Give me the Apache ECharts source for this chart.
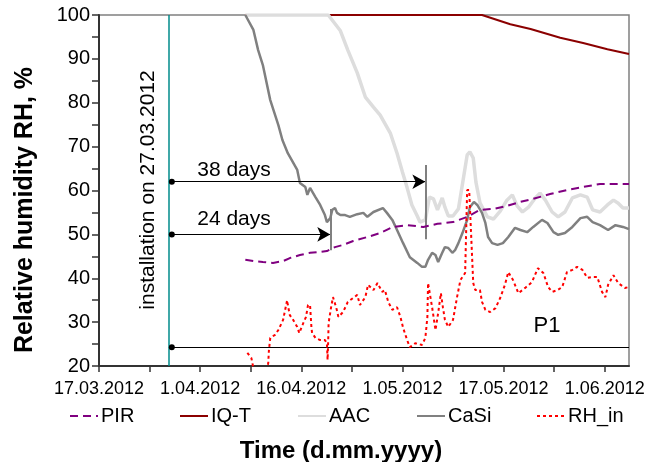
<!DOCTYPE html>
<html><head><meta charset="utf-8">
<script src="https://cdn.jsdelivr.net/npm/echarts@6/dist/echarts.min.js"></script>
<style>html,body{margin:0;padding:0;background:#fff}#c{width:660px;height:462px}</style>
</head><body><div id="c"></div>
<script>
// x values are days after 17.03.2012
const xTickLabels = ['17.03.2012','1.04.2012','16.04.2012','1.05.2012','17.05.2012','1.06.2012'];
const xMax = 78.6;

const pirDays = [21.7,22.9,24.3,25.8,27.3,28.3,29.8,31.3,32.8,33.8,35.0,36.2,37.7,39.8,41.7,43.6,45.7,48.1,50.2,52.5,54.6,56.5,58.5,60.5,62.5,64.4,66.9,69.4,71.8,74.3,76.3,78.6];
const pirRH   = [44.2,43.9,43.7,43.5,43.9,44.6,45.3,45.8,46.0,46.2,47.1,47.6,48.5,49.4,50.3,51.7,52.1,51.7,52.4,52.8,54.0,55.6,55.8,56.5,57.4,58.1,59.2,60.1,60.8,61.5,61.5,61.5];

const iqtDays = [21.7,56.8,61.0,64.0,68.4,71.8,75.4,78.6];
const iqtRH   = [100,100,97.9,96.8,94.8,93.6,92.2,91.1];

const aacDays = [21.7,34.0,35.8,36.9,38.3,39.5,40.7,41.7,43.2,44.2,45.0,45.7,46.4,47.2,47.6,48.4,49.0,49.6,50.2,50.9,51.3,51.8,52.5,53.3,54.0,54.6,55.0,55.5,55.9,56.5,57.6,58.5,59.5,60.5,61.3,62.0,62.8,63.7,64.7,65.4,66.2,67.2,68.1,69.1,70.2,71.4,72.4,73.2,74.3,75.4,76.3,77.0,77.7,78.6];
const aacRH   = [100,100,96.4,92.0,86.8,81.3,79.0,77.2,73.1,68.5,64.2,60.6,56.7,54.2,52.8,53.3,58.5,58.1,55.6,58.3,56.2,54.2,54.2,55.8,62.4,68.1,68.8,67.4,61.9,57.2,54.0,53.5,55.3,57.8,59.0,56.5,55.1,56.2,58.3,59.4,57.8,55.1,54.0,55.1,58.3,59.0,58.5,55.6,55.1,56.7,57.8,57.1,56.0,56.0];

const casiDays = [21.7,22.9,23.6,24.3,25.4,26.6,27.2,28.0,29.4,29.8,30.6,30.9,31.3,32.1,32.8,33.5,33.8,34.3,34.6,35.0,35.3,35.8,36.5,37.2,38.3,39.2,39.8,40.7,42.1,42.7,43.5,44.2,45.1,46.1,47.2,47.9,48.4,48.8,49.4,49.9,50.3,50.9,51.3,51.8,52.4,52.8,53.3,53.9,54.6,55.0,55.6,56.1,56.8,57.3,57.7,58.3,59.1,59.9,60.7,61.7,62.5,63.5,64.4,65.7,66.5,67.4,68.1,69.1,70.2,71.4,72.4,73.2,74.3,75.5,76.6,77.7,78.6];
const casiRH   = [100,96.6,92.0,88.6,80.6,74.9,71.5,68.5,64.7,61.7,60.8,59.0,60.6,58.5,56.7,54.4,52.8,53.7,55.6,56.0,54.9,54.4,54.4,54.0,54.6,54.9,54.0,55.1,56.0,54.9,53.3,51.0,48.0,44.8,43.5,42.6,42.6,44.2,45.8,45.3,43.7,45.8,47.1,46.9,45.8,46.4,48.0,50.3,53.3,56.2,57.4,56.7,54.9,52.6,49.4,48.0,47.6,48.0,49.4,51.5,51.0,50.5,51.7,53.3,52.6,50.5,49.9,50.3,51.7,53.7,54.0,52.8,52.1,51.0,52.1,51.7,51.2];

const rhinDays = [22.0,22.6,22.9,23.9,24.9,25.1,25.2,25.4,26.1,26.6,27.3,27.9,28.0,28.3,28.8,29.4,29.7,30.3,30.7,31.0,31.3,31.5,31.6,32.1,32.8,33.5,33.8,33.9,34.0,34.05,34.4,34.7,35.2,35.5,36.2,36.9,38.3,38.7,39.5,39.9,40.7,41.3,42.0,42.4,42.9,43.5,44.2,44.7,45.1,45.7,46.1,46.9,47.9,48.4,48.7,48.8,49.4,49.9,50.3,50.7,51.0,51.3,51.8,52.5,53.1,53.6,54.3,54.6,54.9,55.5,55.8,56.5,56.8,57.3,58.0,58.8,59.5,60.2,60.7,61.4,62.2,63.2,64.2,65.1,65.9,66.6,67.2,68.0,68.7,69.4,70.2,70.9,71.7,72.4,73.2,73.9,74.6,75.1,75.5,76.3,77.0,78.0,78.6];
const rhinRH   = [23.0,21.8,19.5,16.8,19.1,20.7,23.6,26.4,27.1,28.2,30.5,35.0,33.9,31.6,30.5,28.9,27.5,29.8,31.2,33.9,33.9,28.9,27.5,26.4,25.9,25.9,25.2,21.4,26.4,29.8,33.2,35.7,33.2,31.2,32.3,34.6,36.2,33.9,35.7,38.5,37.3,38.9,36.9,37.3,34.6,32.8,33.4,31.2,28.7,25.9,24.3,25.2,24.8,26.4,31.2,38.9,33.4,28.2,32.1,36.6,33.4,30.5,28.9,30.5,35.7,39.6,41.2,60.1,60.1,38.9,37.3,37.3,34.6,32.8,32.3,33.2,35.5,38.5,41.4,39.6,36.6,37.8,39.1,42.3,41.2,38.0,36.9,37.3,38.0,41.4,41.9,42.6,41.9,40.1,40.3,40.3,36.9,35.7,38.5,40.7,38.9,37.8,38.0];

// annotations (data units)
const installDay = 10.3;
const startDay = 10.8;
const arrow38 = {end: 48.4, level: 62, barLow: 48.9, barHigh: 65.8};
const arrow24 = {end: 34.3, level: 50, barLow: 46.4, barHigh: 55.8};
const p1Level = 24.3;

const zip = (a, b) => a.map((v, i) => [v, b[i]]);
const FONT = '"Liberation Sans", Arial, sans-serif';

const chart = echarts.init(document.getElementById('c'), null, {renderer: 'canvas'});

const blackLine = {color: '#000', width: 1.2, type: 'solid'};
const grayBar = {color: '#808080', width: 2, type: 'solid'};

chart.setOption({
  animation: false,
  backgroundColor: '#fff',
  grid: {left: 99, right: 31, top: 15, bottom: 96, show: true, borderColor: '#808080', borderWidth: 1.5, backgroundColor: 'transparent'},
  xAxis: {
    type: 'value', min: 0, max: xMax, interval: 7.5,
    axisLine: {show: true, lineStyle: {color: '#333', width: 2}},
    axisTick: {show: true, length: 6, lineStyle: {color: '#333', width: 1.5}},
    splitLine: {show: false},
    axisLabel: {
      margin: 14, color: '#000', fontFamily: FONT, fontSize: 18,
      showMaxLabel: false,
      formatter: v => {
        const k = Math.round(v / 15);
        return (Math.abs(v - k * 15) < 1e-6 && k < xTickLabels.length) ? xTickLabels[k] : '';
      }
    }
  },
  yAxis: {
    type: 'value', min: 20, max: 100, interval: 5,
    axisLine: {show: true, lineStyle: {color: '#333', width: 2}},
    axisTick: {show: true, length: 7, lineStyle: {color: '#333', width: 1.5}},
    splitLine: {show: false},
    axisLabel: {margin: 9, color: '#000', fontFamily: FONT, fontSize: 20,
      formatter: v => (v % 10 === 0 ? String(v) : '')}
  },
  legend: [
    {data: ['PIR'], left: 69},
    {data: ['IQ-T'], left: 179},
    {data: ['AAC'], left: 297},
    {data: ['CaSi'], left: 416},
    {data: ['RH_in'], left: 536}
  ].map(l => Object.assign({
    top: 406, itemWidth: 28, itemHeight: 14, padding: 0, selectedMode: false,
    itemStyle: {opacity: 0},
    textStyle: {fontFamily: FONT, fontSize: 20, color: '#000', padding: [0, 0, 0, -2]}
  }, l)),
  title: [
    {text: 'Time (d.mm.yyyy)', left: 336, top: 434, textAlign: 'center',
      textStyle: {fontFamily: FONT, fontSize: 24, fontWeight: 'bold', color: '#000'}}
  ],
  graphic: [
    {type: 'text', x: 25, y: 210, rotation: Math.PI / 2,
      style: {text: 'Relative humidity RH, %', font: 'bold 25px ' + FONT, fill: '#000', align: 'center', verticalAlign: 'middle'}},
    {type: 'text', x: 148, y: 190, rotation: Math.PI / 2,
      style: {text: 'installation on 27.03.2012', font: '21px ' + FONT, fill: '#000', align: 'center', verticalAlign: 'middle'}},
    {type: 'text', x: 234, y: 170,
      style: {text: '38 days', font: '21px ' + FONT, fill: '#000', align: 'center', verticalAlign: 'middle'}},
    {type: 'text', x: 234, y: 219,
      style: {text: '24 days', font: '21px ' + FONT, fill: '#000', align: 'center', verticalAlign: 'middle'}},
    {type: 'text', x: 547, y: 326,
      style: {text: 'P1', font: '22px ' + FONT, fill: '#000', align: 'center', verticalAlign: 'middle'}}
  ],
  series: [
    {name: 'PIR', type: 'line', symbol: 'none', data: zip(pirDays, pirRH), z: 6,
      lineStyle: {color: '#800080', width: 2, type: [8, 5]}, itemStyle: {color: '#800080'}},
    {name: 'IQ-T', type: 'line', symbol: 'none', data: zip(iqtDays, iqtRH), z: 2,
      lineStyle: {color: '#8B0000', width: 2}, itemStyle: {color: '#8B0000'}},
    {name: 'AAC', type: 'line', symbol: 'none', data: zip(aacDays, aacRH), z: 3,
      lineStyle: {color: '#DDDDDD', width: 3.5}, itemStyle: {color: '#DDDDDD'}},
    {name: 'CaSi', type: 'line', symbol: 'none', data: zip(casiDays, casiRH), z: 4,
      lineStyle: {color: '#808080', width: 2.5}, itemStyle: {color: '#808080'}},
    {name: 'RH_in', type: 'line', symbol: 'none', data: zip(rhinDays, rhinRH), z: 7,
      lineStyle: {color: '#FF0000', width: 2, type: [3, 3]}, itemStyle: {color: '#FF0000'}},
    {name: 'annotations', type: 'line', data: [], z: 8,
      markLine: {
        silent: true, animation: false, label: {show: false}, symbol: ['none', 'none'],
        data: [
          [{coord: [installDay, 20], lineStyle: {color: '#008B8B', width: 1.5, type: 'solid'}}, {coord: [installDay, 100]}],
          [{coord: [startDay, arrow38.level], symbol: 'circle', symbolSize: 6, lineStyle: blackLine},
           {coord: [arrow38.end, arrow38.level], symbol: 'arrow', symbolSize: [11, 13]}],
          [{coord: [startDay, arrow24.level], symbol: 'circle', symbolSize: 6, lineStyle: blackLine},
           {coord: [arrow24.end, arrow24.level], symbol: 'arrow', symbolSize: [11, 13]}],
          [{coord: [startDay, p1Level], symbol: 'circle', symbolSize: 6, lineStyle: blackLine},
           {coord: [xMax, p1Level], symbol: 'none'}],
          [{coord: [arrow38.end, arrow38.barLow], lineStyle: grayBar}, {coord: [arrow38.end, arrow38.barHigh]}],
          [{coord: [arrow24.end, arrow24.barLow], lineStyle: grayBar}, {coord: [arrow24.end, arrow24.barHigh]}]
        ]
      }}
  ]
});
</script></body></html>
